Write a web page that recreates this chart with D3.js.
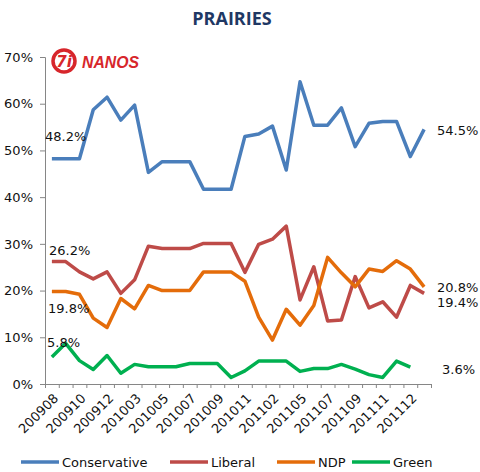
<!DOCTYPE html>
<html>
<head>
<meta charset="utf-8">
<script src="https://cdn.jsdelivr.net/npm/d3@7"></script>
<style>
  body { margin: 0; background: #fff; }
  svg text { font-family: "DejaVu Sans", Verdana, sans-serif; }
</style>
</head>
<body>
<div class="chart"></div>
<script>
// Poll months (only every other one gets a label on the axis)
const months = ["200908","200909","200910","200911","200912","201001","201003","201004",
  "201005","201006","201007","201008","201009","201010","201011","201012",
  "201102","201104","201105","201106","201107","201108","201109","201110",
  "201111","201111","201112","201201"];

const conservative = [48.2,48.2,48.2,58.7,61.4,56.5,59.7,45.3,47.6,47.6,47.6,41.7,41.7,41.7,
  53.0,53.5,55.2,45.8,64.7,55.4,55.4,59.1,50.8,55.8,56.2,56.2,48.7,54.5];
const liberal = [26.2,26.2,24.0,22.5,24.0,19.4,22.3,29.5,29.0,29.0,29.0,30.1,30.1,30.1,
  23.9,29.9,31.0,33.8,18.0,25.1,13.5,13.7,23.0,16.3,17.6,14.3,21.1,19.4];
const ndp = [19.8,19.8,19.2,14.1,12.1,18.3,16.1,21.1,20.0,20.0,20.0,24.0,24.0,24.0,
  22.0,14.3,9.4,16.0,12.6,16.8,27.1,23.8,20.8,24.6,24.1,26.4,24.6,20.8];
const green = [5.8,8.7,5.0,3.1,6.1,2.3,4.2,3.7,3.7,3.7,4.4,4.4,4.4,1.4,
  2.8,4.9,4.9,4.9,2.7,3.3,3.3,4.2,3.2,2.0,1.4,4.9,3.6,null];

const seriesNames = ["Conservative", "Liberal", "NDP", "Green"];
const seriesColors = ["#4A7EBB", "#BE4B48", "#E46C0A", "#00B050"];
const yTicks = [0, 10, 20, 30, 40, 50, 60, 70];

const W = 480, H = 472;
const plot = {left: 45, right: 431, top: 57, bottom: 384};

const svg = d3.select(".chart")
    .append("svg")
        .attr("width", W)
        .attr("height", H);

// Title
svg.append("text")
    .attr("x", 232)
    .attr("y", 25)
    .attr("text-anchor", "middle")
    .style("font-family", "'Open Sans', sans-serif")
    .style("font-weight", "bold")
    .style("font-size", "18px")
    .attr("fill", "#1F3864")
    .text("PRAIRIES");

// Scales
const x = d3.scaleLinear().domain([0, months.length]).range([plot.left, plot.right]);
const y = d3.scaleLinear().domain([0, 70]).range([plot.bottom, plot.top]);
const cx = i => x(i + 0.5);

// Y axis
const yAxis = svg.append("g")
    .attr("transform", "translate(" + plot.left + ",0)")
    .call(d3.axisLeft(y).tickValues(yTicks).tickSize(5).tickPadding(7).tickFormat(d => d + "%"));
yAxis.select(".domain").attr("stroke", "#868686");
yAxis.selectAll("line").attr("stroke", "#868686");
yAxis.selectAll("text").style("font-size", "13px").attr("fill", "#111");

// X axis (ticks at category edges)
const xAxis = svg.append("g")
    .attr("transform", "translate(0," + plot.bottom + ")")
    .call(d3.axisBottom(x).tickValues(d3.range(months.length + 1)).tickSize(4).tickSizeOuter(0).tickFormat(""));
xAxis.select(".domain").attr("stroke", "#868686");
xAxis.selectAll("line").attr("stroke", "#868686");

svg.append("g")
    .selectAll("text")
    .data(months.map((m, i) => [m, i]).filter(d => d[1] % 2 === 0))
    .enter()
    .append("text")
        .attr("transform", d => "translate(" + (cx(d[1]) + 4) + "," + (plot.bottom + 12) + ")rotate(-45)")
        .attr("text-anchor", "end")
        .attr("dy", "0.35em")
        .style("font-size", "13px")
        .attr("fill", "#111")
        .text(d => d[0]);

// Lines
const allSeries = [conservative, liberal, ndp, green];
const line = d3.line()
    .defined(d => d != null)
    .x((d, i) => cx(i))
    .y(d => y(d));

svg.append("g")
    .selectAll("path")
    .data(allSeries)
    .enter()
    .append("path")
        .attr("d", d => line(d))
        .attr("fill", "none")
        .attr("stroke", (d, i) => seriesColors[i])
        .attr("stroke-width", 3.5)
        .attr("stroke-linejoin", "round");

// Value labels
const labels = [
    {t: "48.2%", x: 45, y: 141},
    {t: "26.2%", x: 49, y: 255},
    {t: "19.8%", x: 48, y: 313},
    {t: "5.8%", x: 47, y: 347},
    {t: "54.5%", x: 437, y: 135},
    {t: "20.8%", x: 437, y: 292},
    {t: "19.4%", x: 437, y: 307},
    {t: "3.6%", x: 442, y: 374}
];
svg.append("g")
    .selectAll("text")
    .data(labels)
    .enter()
    .append("text")
        .attr("x", d => d.x)
        .attr("y", d => d.y)
        .style("font-size", "13px")
        .attr("fill", "#111")
        .text(d => d.t);

// Logo
const logo = svg.append("g");
logo.append("circle")
    .attr("cx", 64).attr("cy", 61).attr("r", 11)
    .attr("fill", "#fff").attr("stroke", "#D7262B").attr("stroke-width", 3.5);
logo.append("text")
    .attr("x", 64).attr("y", 67)
    .attr("text-anchor", "middle")
    .style("font-size", "15px").style("font-weight", "bold").style("font-style", "italic")
    .attr("fill", "#D7262B")
    .text("7i");
logo.append("text")
    .attr("x", 82).attr("y", 68)
    .attr("textLength", 57).attr("lengthAdjust", "spacingAndGlyphs")
    .style("font-family", "'Liberation Sans', Arial, sans-serif")
    .style("font-size", "17px").style("font-weight", "900").style("font-style", "italic")
    .attr("fill", "#D7262B")
    .text("NANOS");

// Legend
const legendX = [21, 170, 277, 352];
const legend = svg.append("g")
    .selectAll("g")
    .data(seriesNames)
    .enter()
    .append("g")
        .attr("transform", (d, i) => "translate(" + legendX[i] + ",462)");
legend.append("line")
    .attr("x1", 0).attr("x2", 38)
    .attr("stroke", (d, i) => seriesColors[i])
    .attr("stroke-width", 3.5);
legend.append("text")
    .attr("x", 41)
    .attr("dy", "0.35em")
    .style("font-size", "13px")
    .attr("fill", "#111")
    .text(d => d);
</script>
</body>
</html>
